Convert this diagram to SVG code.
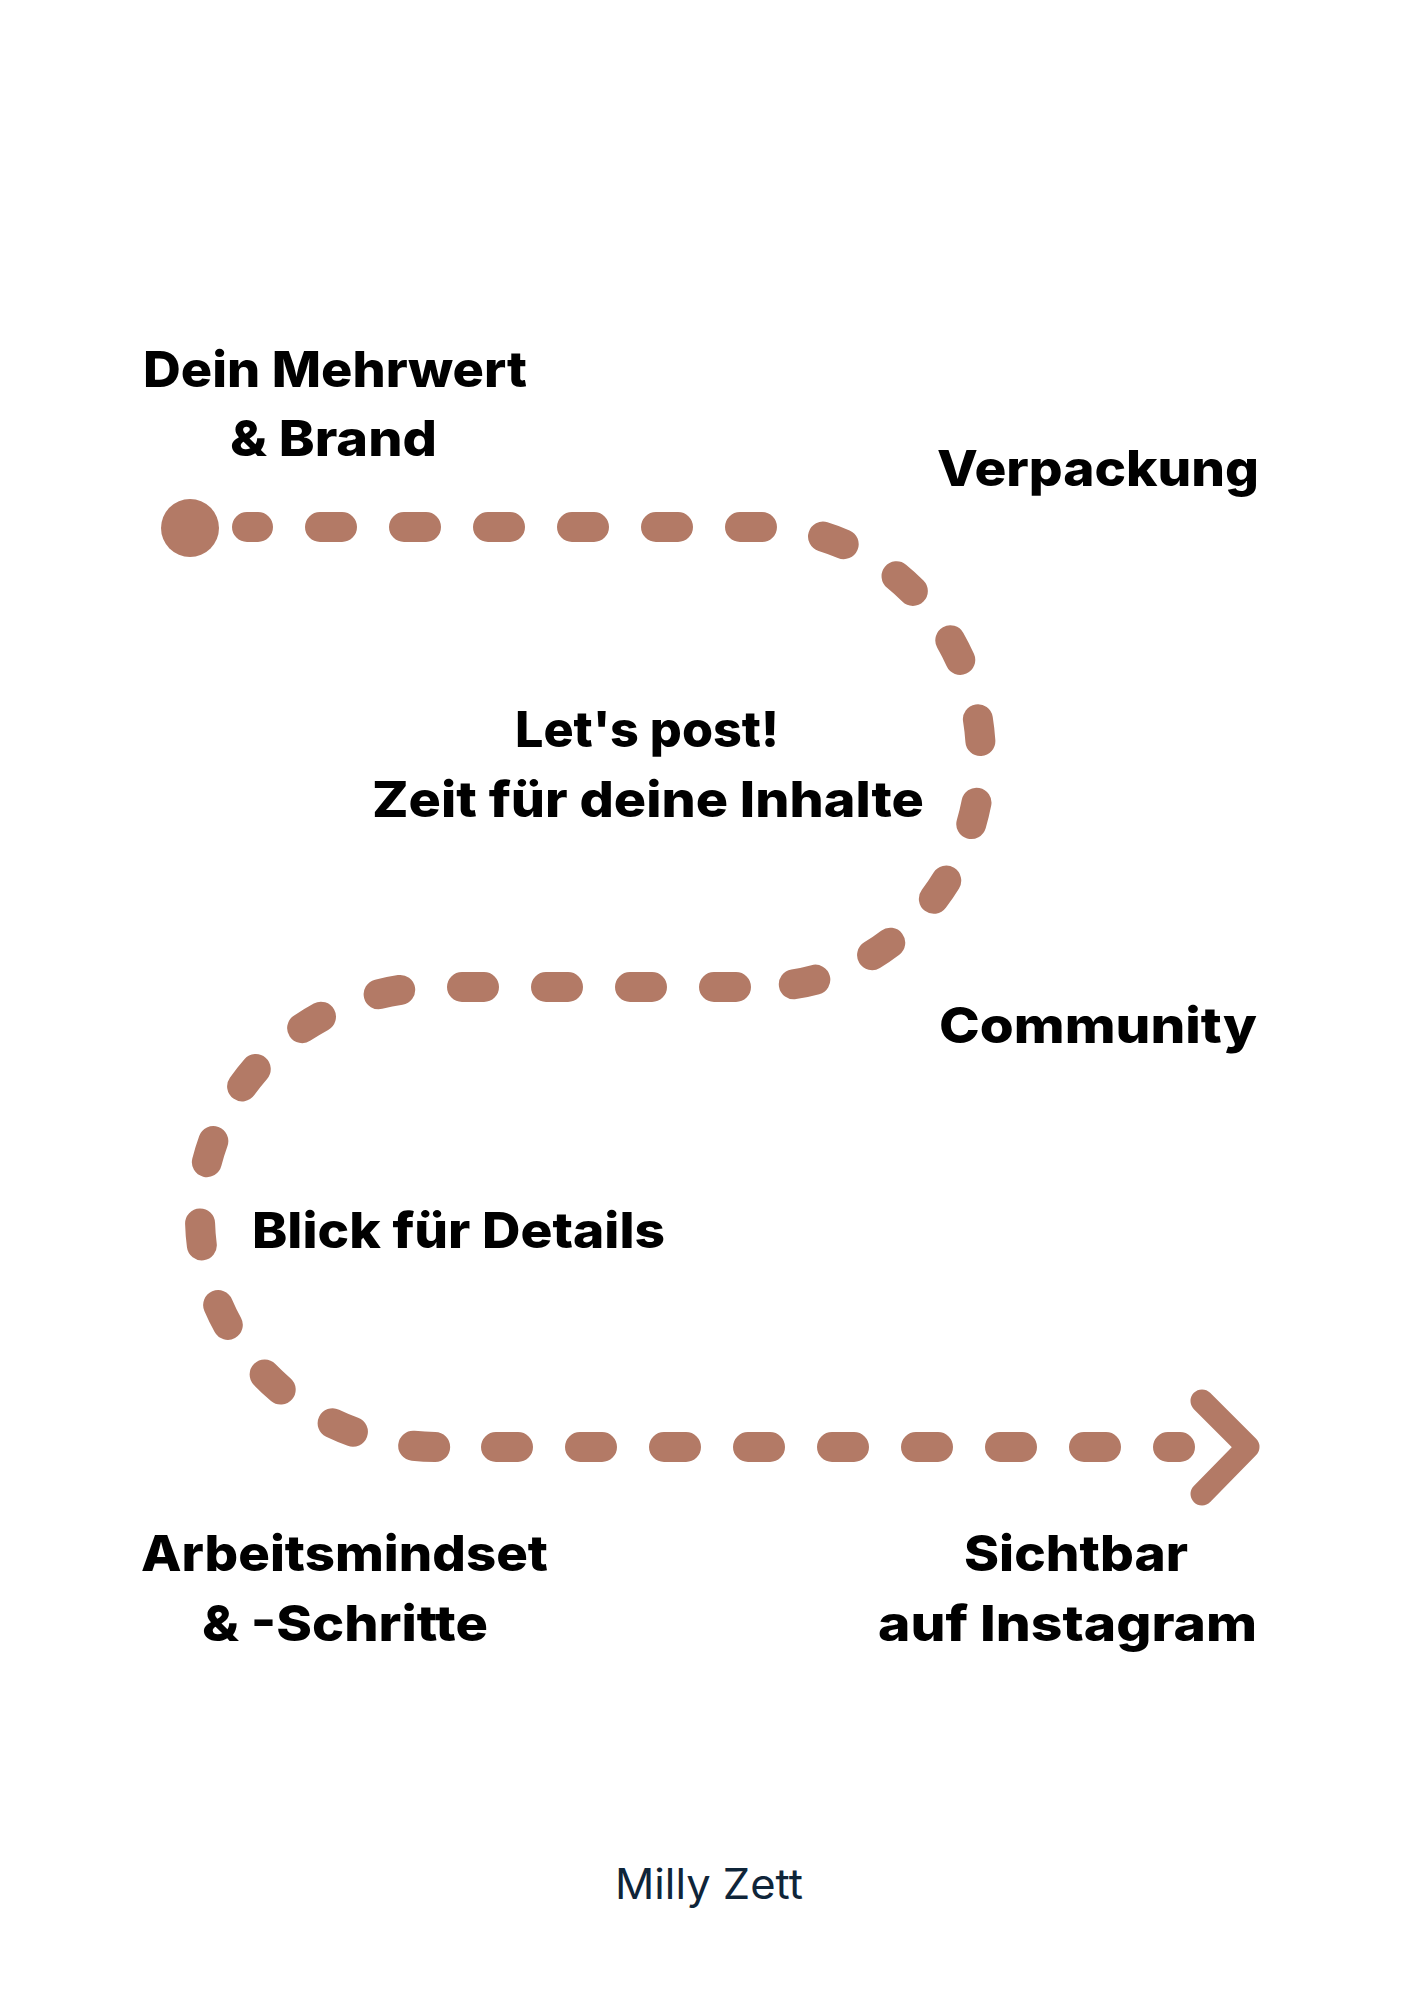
<svg xmlns="http://www.w3.org/2000/svg" width="1414" height="2000" viewBox="0 0 1414 2000">
  <style>
    .lbl { font-family: "Inter", "Liberation Sans", sans-serif; font-weight: 800; font-size: 50px; fill: #000000; }
    .sig { font-family: "Inter", "Liberation Sans", sans-serif; font-weight: 400; font-size: 42px; fill: #0f2539; }
    .trail { fill: none; stroke: #B37A66; stroke-width: 30; stroke-linecap: round; stroke-dasharray: 22 62; }
    .head { fill: none; stroke: #B37A66; stroke-width: 23; stroke-linecap: round; stroke-linejoin: round; }
  </style>
  <rect width="1414" height="2000" fill="#ffffff"/>
  <g id="connectors">
    <circle cx="190" cy="528" r="29" fill="#B37A66"/>
    <path class="trail" stroke-dashoffset="11" d="M 247 527 H 760 A 221 230 0 0 1 760 987"/>
    <path class="trail" stroke-dashoffset="60" d="M 760 987 H 438 A 238 230 0 0 0 438 1447"/>
    <path class="trail" stroke-dashoffset="26" d="M 438 1447 H 1180"/>
    <path class="head" d="M 1202 1401 L 1248 1447 L 1202 1494"/>
  </g>
  <g id="node-mehrwert">
    <text class="lbl" x="143" y="387" textLength="384" lengthAdjust="spacingAndGlyphs">Dein Mehrwert</text>
    <text class="lbl" x="230" y="456" textLength="207" lengthAdjust="spacingAndGlyphs">&amp; Brand</text>
  </g>
  <g id="node-verpackung">
    <text class="lbl" x="937" y="486" textLength="322" lengthAdjust="spacingAndGlyphs">Verpackung</text>
  </g>
  <g id="node-letspost">
    <text class="lbl" x="515" y="747" textLength="264" lengthAdjust="spacingAndGlyphs">Let's post!</text>
    <text class="lbl" x="372" y="817" textLength="552" lengthAdjust="spacingAndGlyphs">Zeit für deine Inhalte</text>
  </g>
  <g id="node-community">
    <text class="lbl" x="939" y="1043" textLength="318" lengthAdjust="spacingAndGlyphs">Community</text>
  </g>
  <g id="node-details">
    <text class="lbl" x="252" y="1248" textLength="413" lengthAdjust="spacingAndGlyphs">Blick für Details</text>
  </g>
  <g id="node-arbeitsmindset">
    <text class="lbl" x="141" y="1571" textLength="407" lengthAdjust="spacingAndGlyphs">Arbeitsmindset</text>
    <text class="lbl" x="202" y="1641" textLength="286" lengthAdjust="spacingAndGlyphs">&amp; -Schritte</text>
  </g>
  <g id="node-sichtbar">
    <text class="lbl" x="964" y="1571" textLength="224" lengthAdjust="spacingAndGlyphs">Sichtbar</text>
    <text class="lbl" x="878" y="1641" textLength="379" lengthAdjust="spacingAndGlyphs">auf Instagram</text>
  </g>
  <g id="signature">
    <text class="sig" x="615" y="1899" textLength="188" lengthAdjust="spacingAndGlyphs">Milly Zett</text>
  </g>
</svg>
